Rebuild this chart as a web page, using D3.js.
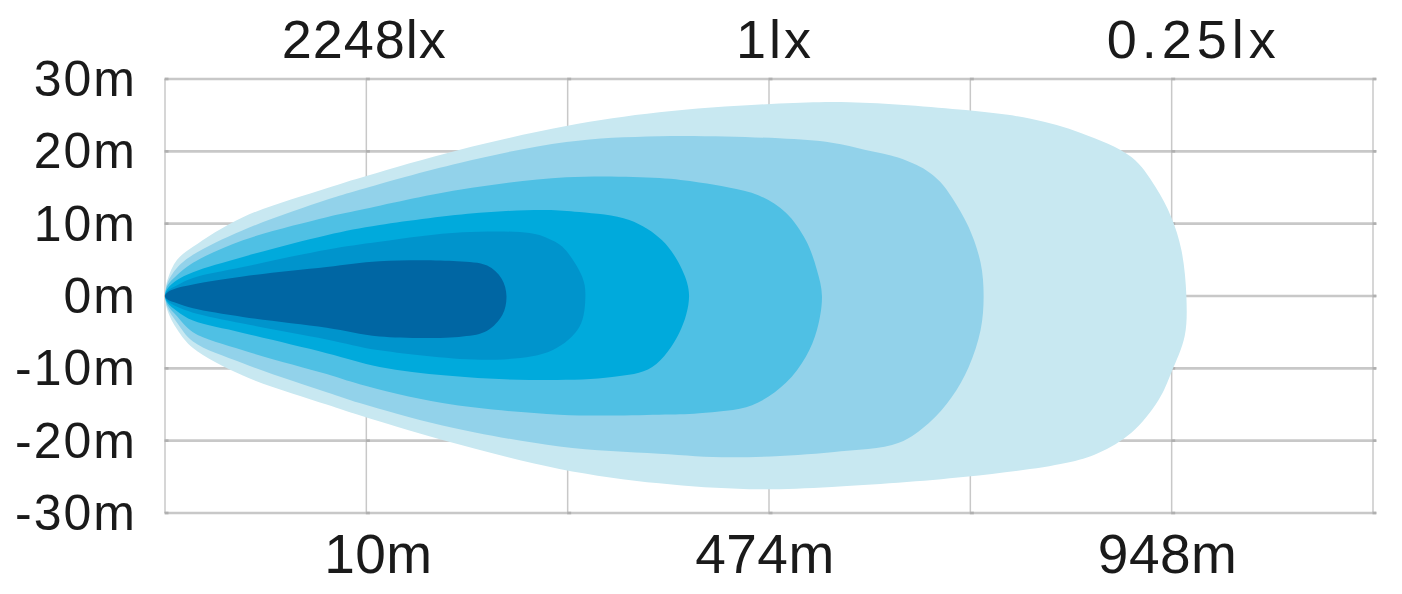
<!DOCTYPE html>
<html>
<head>
<meta charset="utf-8">
<script src="https://cdn.jsdelivr.net/npm/d3@7"></script>
<style>
  body { margin:0; background:#fff; }
  text { font-family: "Liberation Sans", Arial, sans-serif; fill:#1a1a1a; }
</style>
</head>
<body>
<div id="chart"></div>
<script>

var width = 1402, height = 594;
var margin = {top:79, right:27, bottom:81, left:165};

// grid steps along the beam (0..6) and lateral width in metres
var yTicks = [30, 20, 10, 0, -10, -20, -30];
var xGrid  = [0, 1, 2, 3, 4, 5, 6];

var luxLabels  = ["2248lx", "1lx", "0.25lx"];
var luxPos     = [0.99, 3.03, 5.11];
var distLabels = ["10m", "474m", "948m"];
var distPos    = [1.06, 2.98, 4.98];

var colors = ["#c8e8f1", "#92d2ea", "#4fc0e4", "#00aadc", "#0094cc", "#0066a3"];

// each isolux: top edge left->right, then bottom edge right->left  [dist, width]
var iso1 = [[0,0],[0.012,2.2],[0.06,5.0],[0.139,6.8],[0.387,10.9],[0.803,14.9],[1.0,16.6],[1.46,20.2],
  [1.993,23.5],[2.455,25.4],[3.05,26.6],[3.4,26.8],[3.977,25.7],[4.3,24.5],[4.552,22.5],[4.80,19.2],
  [4.919,15.1],[4.998,10.9],[5.048,6.4],[5.073,0],
  [5.065,-5.5],[4.998,-10.6],[4.934,-14.4],[4.80,-18.9],[4.636,-21.7],[4.473,-23.1],[3.977,-25.0],
  [3.312,-26.4],[2.901,-26.7],[2.455,-25.9],[1.959,-23.9],[1.378,-19.9],[0.967,-16.5],[0.803,-15.0],
  [0.387,-11.0],[0.139,-7.2],[0.06,-4.6],[0.012,-2.0]];
var iso2 = [[0,0],[0.012,1.8],[0.06,3.9],[0.139,5.7],[0.387,9.1],[0.803,13.3],[0.967,14.7],[1.463,18.4],
  [1.993,21.3],[2.455,22.1],[3.05,21.8],[3.312,21.2],[3.48,20.2],[3.645,19.1],[3.78,17.4],[3.85,15.8],[3.907,13.7],
  [3.992,9.5],[4.051,4.6],[4.066,0],
  [4.051,-4.7],[3.992,-9.8],[3.907,-14.0],[3.793,-17.6],[3.645,-20.3],[3.312,-21.6],[2.817,-22.3],
  [2.455,-21.8],[1.959,-20.8],[1.378,-17.9],[0.967,-14.8],[0.803,-13.3],[0.387,-9.3],[0.139,-6.3],
  [0.06,-3.7],[0.012,-1.6]];
var iso3 = [[0,0],[0.012,1.4],[0.06,2.9],[0.139,4.6],[0.387,7.7],[0.803,10.9],[0.967,11.9],[1.463,14.7],
  [1.993,16.4],[2.455,16.3],[2.653,15.7],[2.8,15.0],[2.95,13.9],[3.084,11.5],[3.183,7.7],[3.238,3.6],[3.263,0],
  [3.238,-4.7],[3.183,-8.4],[3.084,-12.0],[2.916,-15.1],[2.653,-16.2],[2.455,-16.4],[1.959,-16.4],
  [1.378,-14.8],[0.967,-12.2],[0.803,-10.8],[0.387,-7.5],[0.139,-5.0],[0.06,-2.8],[0.012,-1.2]];
var iso4 = [[0,0],[0.012,1.0],[0.06,2.2],[0.139,3.3],[0.387,5.4],[0.803,8.4],[1.066,9.8],[1.562,11.5],
  [1.894,11.9],[2.058,11.6],[2.306,10.5],[2.469,7.7],[2.569,3.6],[2.603,0],
  [2.554,-5.1],[2.42,-9.8],[2.221,-11.2],[1.81,-11.6],[1.398,-11.0],[1.066,-9.8],[0.803,-7.9],
  [0.387,-5.1],[0.139,-3.4],[0.06,-2.1],[0.012,-0.9]];
var iso5 = [[0,0],[0.012,0.7],[0.06,1.5],[0.139,2.5],[0.387,4.0],[0.803,6.4],[1.066,7.5],[1.478,8.8],
  [1.81,8.7],[1.9,8.0],[1.974,6.8],[2.073,2.6],[2.088,0],
  [2.058,-4.3],[1.924,-7.5],[1.646,-8.8],[1.066,-7.5],[0.803,-6.0],[0.387,-3.8],[0.139,-2.3],
  [0.06,-1.5],[0.012,-0.7]];
var iso6 = [[0,0],[0.012,0.5],[0.06,1.1],[0.139,1.6],[0.387,2.7],[0.803,4.0],[1.066,4.8],[1.45,4.8],
  [1.6,4.2],[1.672,2.4],[1.696,0],
  [1.676,-2.6],[1.6,-4.8],[1.478,-5.6],[1.066,-5.6],[0.803,-4.4],[0.387,-2.9],[0.139,-1.7],
  [0.06,-1.0],[0.012,-0.5]];

var isolux = [iso1, iso2, iso3, iso4, iso5, iso6];

var x = d3.scaleLinear().domain([0, 6]).range([margin.left, width - margin.right - 2]);
var y = d3.scaleLinear().domain([-30, 30]).range([height - margin.bottom, margin.top]);

var svg = d3.select('#chart').append('svg')
	.attr('width', width)
	.attr('height', height);

//---grid---
var grid = svg.append('g');
grid.selectAll('line.v').data(xGrid).enter().append('line')
	.attr('x1', function(d){ return x(d); })
	.attr('x2', function(d){ return x(d); })
	.attr('y1', y(30))
	.attr('y2', y(-30))
	.style('stroke', '#c8c8c8')
	.style('stroke-width', 1.5);

grid.selectAll('line.h').data(yTicks).enter().append('line')
	.attr('x1', x(0))
	.attr('x2', x(6) + 3)
	.attr('y1', function(d){ return y(d); })
	.attr('y2', function(d){ return y(d); })
	.style('stroke', '#c8c8c8')
	.style('stroke-width', 2.6);

// little darker marks where lines cross
var cross = [];
xGrid.forEach(function(a){ yTicks.forEach(function(b){ cross.push([a, b]); }); });
grid.selectAll('rect').data(cross).enter().append('rect')
	.attr('x', function(d){ return x(d[0]) - 0.5; })
	.attr('y', function(d){ return y(d[1]) - 1.3; })
	.attr('width', 4)
	.attr('height', 2.6)
	.style('fill', '#b0b0b0');

//---beams---
var line = d3.line()
	.x(function(d){ return x(d[0]); })
	.y(function(d){ return y(d[1]); })
	.curve(d3.curveCatmullRomClosed.alpha(0.5));

svg.append('g').selectAll('path').data(isolux).enter().append('path')
	.attr('d', line)
	.style('fill', function(d, i){ return colors[i]; })
	.style('stroke', 'none');

//---labels---
svg.append('g').selectAll('text').data(yTicks).enter().append('text')
	.attr('x', 137)
	.attr('y', function(d){ return y(d) + 17; })
	.attr('text-anchor', 'end')
	.style('font-size', '50px')
	.style('letter-spacing', '2px')
	.text(function(d){ return d + 'm'; });

svg.append('g').selectAll('text').data(luxLabels).enter().append('text')
	.attr('x', function(d, i){ return x(luxPos[i]); })
	.attr('y', 58)
	.attr('text-anchor', 'middle')
	.style('font-size', '54px')
	.style('letter-spacing', function(d, i){ return i == 2 ? '5px' : (i == 1 ? '3px' : '1px'); })
	.text(function(d){ return d; });

svg.append('g').selectAll('text').data(distLabels).enter().append('text')
	.attr('x', function(d, i){ return x(distPos[i]); })
	.attr('y', 573)
	.attr('text-anchor', 'middle')
	.style('font-size', '55px')
	.style('letter-spacing', '0.5px')
	.text(function(d){ return d; });

</script>
</body>
</html>
